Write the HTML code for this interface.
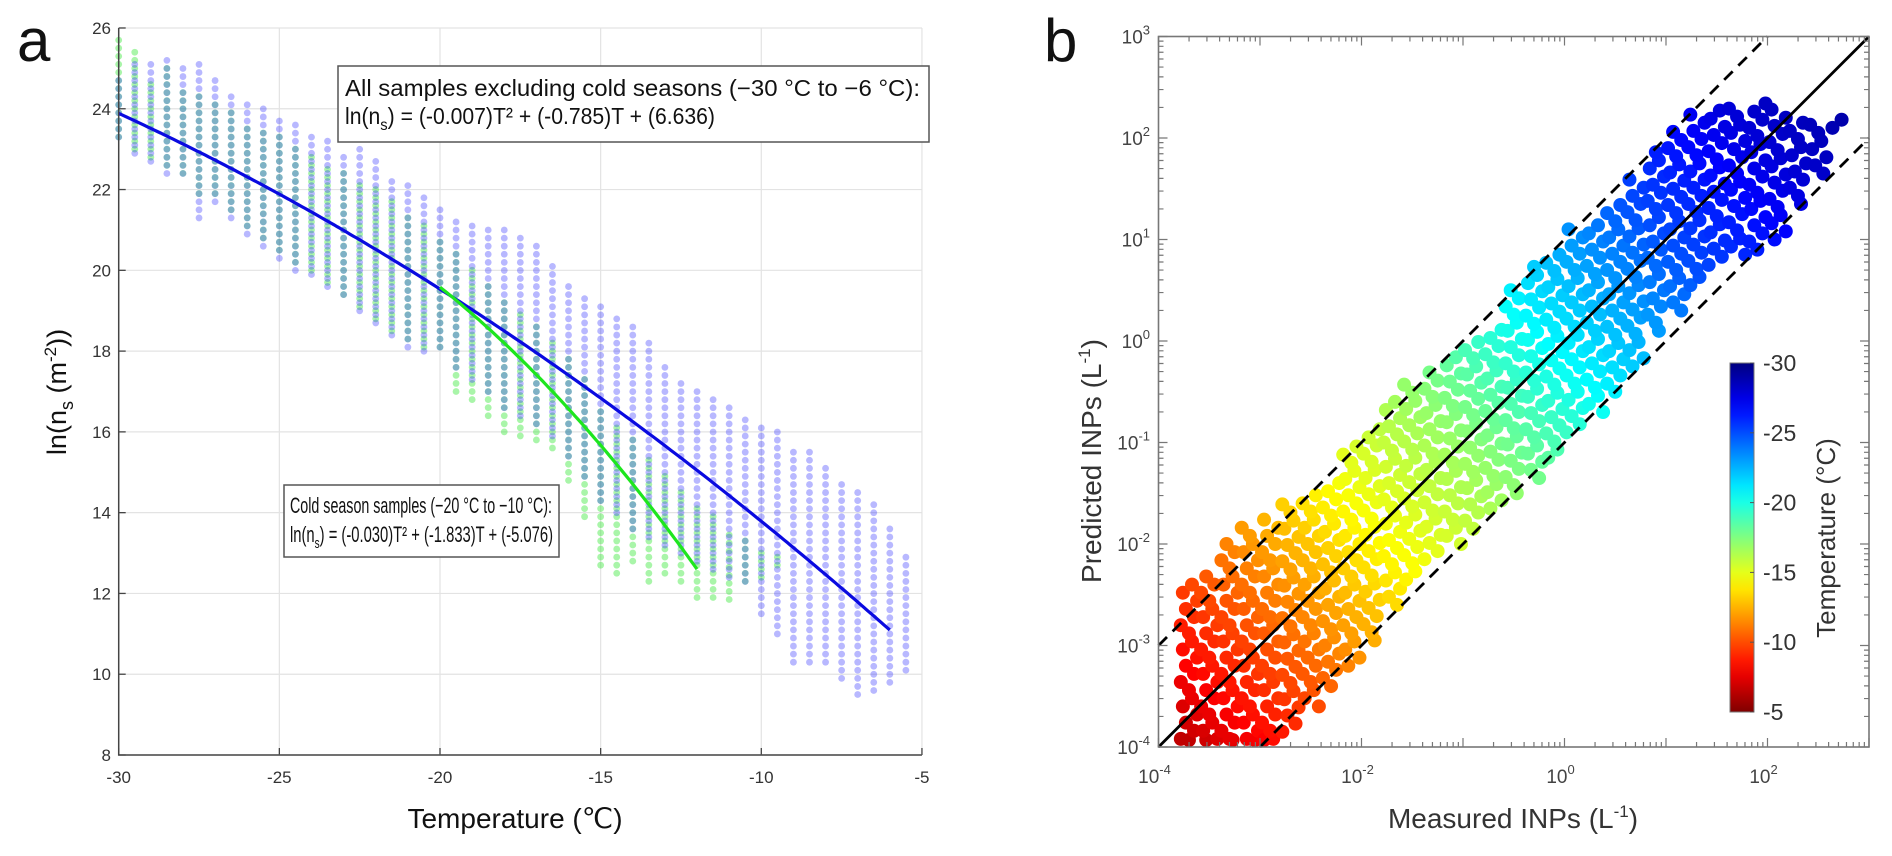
<!DOCTYPE html>
<html><head><meta charset="utf-8"><style>
html,body{margin:0;padding:0;background:#fff;}
svg{display:block;font-family:"Liberation Sans",sans-serif;}
</style></head><body>
<svg id="fig" width="1892" height="856" viewBox="0 0 1892 856" xmlns="http://www.w3.org/2000/svg">
<g id="pa"></g>
<g id="pb"></g>
</svg>
<script>
// ---------- Panel a data ----------
const aTemps = []; // columns every 0.5 °C from -30 to -5.5
for (let i = 0; i < 50; i++) aTemps.push(-30 + 0.5 * i);
const blueHi = [24.8,25.2,25.2,25.2,25.1,25.1,24.7,24.4,24.1,24.0,23.8,23.7,23.4,23.25,22.9,23.0,22.7,22.3,22.2,21.9,21.5,21.3,21.2,21.1,21.0,20.8,20.6,20.2,19.6,19.4,19.2,18.9,18.6,18.2,17.7,17.2,17.0,16.9,16.6,16.4,16.1,16.0,15.6,15.6,15.2,14.7,14.5,14.2,13.75,13.0];
const blueLo = [23.3,22.9,22.7,22.4,22.4,21.3,21.7,21.3,20.9,20.6,20.3,20.0,19.9,19.6,19.4,19.0,18.7,18.4,18.1,18.0,18.1,17.6,17.3,17.0,16.6,16.4,16.2,15.9,15.4,14.9,14.3,14.0,13.6,13.4,13.2,13.0,12.8,12.6,12.4,12.3,11.5,11.0,10.3,10.3,10.3,9.9,9.5,9.6,9.8,10.1];
const greenHi = [25.7,25.5,24.6,25.0,24.5,24.3,24.2,23.9,23.6,23.4,23.3,23.0,22.8,22.6,22.4,22.2,22.0,21.7,21.4,21.2,20.8,20.4,20.0,19.6,19.3,19.0,18.6,18.2,17.8,17.3,16.6,16.2,15.8,15.3,14.9,14.5,14.2,13.9,13.6,13.3,13.1,12.9];
const greenLo = [23.3,23.0,22.8,22.6,22.4,21.9,21.9,21.5,21.1,20.8,20.5,20.2,20.0,19.7,19.4,19.1,18.8,18.5,18.3,18.1,18.1,17.0,16.8,16.4,16.0,15.9,15.8,15.6,14.8,13.9,12.7,12.5,12.8,12.3,12.5,12.3,11.9,11.9,11.85,12.3,12.4,12.7];
const blueCoef = [-0.007,-0.785,6.636];
const blueRange = [-30,-6];
const greenCoef = [-0.030,-1.833,-5.076];
const greenRange = [-20,-12];
const aXTicks = [-30,-25,-20,-15,-10,-5];
const aYTicks = [8,10,12,14,16,18,20,22,24,26];

// ---------- Panel b data ----------
const bColX = [-3.7,-3.5,-3.3,-3.1,-2.9,-2.7,-2.5,-2.3,-2.1,-1.9,-1.7,-1.5,-1.3,-1.1,-0.9,-0.7,-0.5,-0.3,-0.1,0.1,0.3,0.5,0.7,0.9,1.1,1.3,1.5,1.7,1.9,2.1,2.3,2.5,2.7];
const bColLo = [-4,-4,-4,-4,-4,-3.85,-3.6,-3.4,-3.2,-2.95,-2.6,-2.35,-2.15,-2.0,-1.85,-1.65,-1.5,-1.35,-1.15,-0.9,-0.7,-0.5,-0.25,0.1,0.3,0.55,0.75,0.85,0.9,1.0,1.35,1.65,2.1];
const bColHi = [-2.4,-2.3,-2.0,-1.8,-1.7,-1.6,-1.5,-1.35,-1.0,-0.85,-0.6,-0.4,-0.25,-0.1,0.0,0.15,0.5,0.75,0.9,1.1,1.2,1.35,1.6,1.9,2.1,2.25,2.3,2.3,2.4,2.3,2.2,2.2,2.25];
const tempLevels = [-4,-3.5,-3,-2,-1,0,1,2,3];
const tempValues = [-6,-8,-10,-14,-17,-21,-25,-28,-30];
const bTicks = [-4,-3,-2,-1,0,1,2,3];
const bXTickLabels = [-4,-2,0,2];
const cbTicks = [-30,-25,-20,-15,-10,-5];

const NS = "http://www.w3.org/2000/svg";
function mk(parent, tag, attrs, text) {
  const e = document.createElementNS(NS, tag);
  for (const k in attrs) e.setAttribute(k, attrs[k]);
  if (text !== undefined) e.textContent = text;
  parent.appendChild(e);
  return e;
}
const pa = document.getElementById('pa');
const pb = document.getElementById('pb');

// ---- Panel a axes ----
const ax = t => 118.7 + (t + 30) * 32.13;
const ay = v => 755 - (v - 8) * 40.39;

aXTicks.forEach(t => {
  const g = mk(pa, 'line', {x1: ax(t), x2: ax(t), y1: ay(26), y2: ay(8), stroke: '#e3e3e3', 'stroke-width': 1.2});
  
  
  const tk = mk(pa, 'line', {x1: ax(t), x2: ax(t), y1: 755, y2: 748, stroke: '#444', 'stroke-width': 1.3});
  
  
  const lb = mk(pa, 'text', {x: ax(t), y: 783, 'text-anchor': 'middle', 'font-size': 17, fill: '#333'}, String(t));
  
  
});
aYTicks.forEach(v => {
  const g = mk(pa, 'line', {x1: ax(-30), x2: ax(-5), y1: ay(v), y2: ay(v), stroke: '#e3e3e3', 'stroke-width': 1.2});
  
  
  const tk = mk(pa, 'line', {x1: 118.7, x2: 125.7, y1: ay(v), y2: ay(v), stroke: '#444', 'stroke-width': 1.3});
  
  
  const lb = mk(pa, 'text', {x: 111, y: ay(v) + 6, 'text-anchor': 'end', 'font-size': 17, fill: '#333'}, String(v));
  
  
});

// scatter
aTemps.forEach((t, i) => {
  if (i < greenHi.length) {
    for (let v = greenLo[i]; v <= greenHi[i] + 1e-6; v += 0.2) {
      const c = mk(pa, 'circle', {cx: ax(t), cy: ay(v), r: 3.4, fill: 'rgba(50,230,50,0.42)'});
      
      
    }
  }
  for (let v = blueLo[i]; v <= blueHi[i] + 1e-6; v += 0.2) {
    const c = mk(pa, 'circle', {cx: ax(t), cy: ay(v) + 0.1, r: 3.4, fill: 'rgba(40,40,255,0.33)'});
    
    
  }
});

function fitPath(coef, range) {
  let d = '';
  for (let t = range[0]; t <= range[1] + 1e-6; t += 0.1) {
    const v = coef[0] * t * t + coef[1] * t + coef[2];
    d += (d ? 'L' : 'M') + ax(t).toFixed(1) + ',' + ay(v).toFixed(1);
  }
  return d;
}
const fb = mk(pa, 'path', {d: fitPath(blueCoef, blueRange), stroke: '#0a0ae0', 'stroke-width': 3.2, fill: 'none'});


const fg = mk(pa, 'path', {d: fitPath(greenCoef, greenRange), stroke: '#1ee61e', 'stroke-width': 3.2, fill: 'none'});



const axl = mk(pa, 'path', {d: `M118.7,${ay(26)}V755H${ax(-5)}`, stroke: '#444', 'stroke-width': 1.5, fill: 'none'});


</script>
<svg style="position:absolute;left:0;top:0" width="1892" height="856" xmlns="http://www.w3.org/2000/svg" font-family="Liberation Sans, sans-serif">
  <text x="17" y="61" font-size="60" fill="#111">a</text>
  <text x="1044" y="61" font-size="60" fill="#111">b</text>
  <g>
    <rect x="338" y="66" width="591" height="76" fill="#fff" stroke="#555" stroke-width="1.5"/>
    <text x="345" y="96" font-size="23" fill="#111" textLength="575" lengthAdjust="spacingAndGlyphs">All samples excluding cold seasons (−30 °C to −6 °C):</text>
    <text x="345" y="124" font-size="23" fill="#111" textLength="370" lengthAdjust="spacingAndGlyphs">ln(n<tspan font-size="16" dy="6">s</tspan><tspan dy="-6">) = (-0.007)T² + (-0.785)T + (6.636)</tspan></text>
  </g>
  <g>
    <rect x="284" y="485" width="275" height="72" fill="#fff" stroke="#555" stroke-width="1.5"/>
    <text x="290" y="513" font-size="22" fill="#111" textLength="262" lengthAdjust="spacingAndGlyphs">Cold season samples (−20 °C to −10 °C):</text>
    <text x="290" y="542" font-size="22" fill="#111" textLength="263" lengthAdjust="spacingAndGlyphs">ln(n<tspan font-size="15" dy="6">s</tspan><tspan dy="-6">) = (-0.030)T² + (-1.833)T + (-5.076)</tspan></text>
  </g>
  <text x="515" y="828" font-size="28" text-anchor="middle" fill="#111">Temperature (℃)</text>
  <text transform="translate(66,392) rotate(-90)" font-size="27" text-anchor="middle" fill="#111">ln(n<tspan font-size="18" dy="7">s</tspan><tspan dy="-7"> (m</tspan><tspan font-size="17" dy="-10">-2</tspan><tspan dy="10">))</tspan></text>
  <text x="1513" y="828" font-size="28" text-anchor="middle" fill="#333">Measured INPs (L<tspan font-size="17" dy="-11">-1</tspan><tspan dy="11">)</tspan></text>
  <text transform="translate(1101,461) rotate(-90)" font-size="28" text-anchor="middle" fill="#333">Predicted INPs (L<tspan font-size="17" dy="-11">-1</tspan><tspan dy="11">)</tspan></text>
  <text transform="translate(1835,538) rotate(-90)" font-size="26" text-anchor="middle" fill="#333">Temperature (°C)</text>
</svg>
<script>
// ---- Panel b ----
const bx = l => 1158.5 + (l + 4) * 101.5;
const by = l => 747 - (l + 4) * 101.5;
function jet(t) {
  const cl = v => Math.max(0, Math.min(1, v));
  const r = cl(1.5 - Math.abs(4 * t - 3)), g = cl(1.5 - Math.abs(4 * t - 2)), b = cl(1.5 - Math.abs(4 * t - 1));
  return `rgb(${Math.round(r*255)},${Math.round(g*255)},${Math.round(b*255)})`;
}
function tempAt(l) {
  if (l <= tempLevels[0]) return tempValues[0];
  for (let i = 1; i < tempLevels.length; i++) {
    if (l <= tempLevels[i]) {
      const f = (l - tempLevels[i-1]) / (tempLevels[i] - tempLevels[i-1]);
      return tempValues[i-1] + f * (tempValues[i] - tempValues[i-1]);
    }
  }
  return tempValues[tempValues.length - 1];
}
const tColor = T => jet((T + 30) / 25);
// fixed scatter offsets (styling only) to avoid regular striping
const offsets = [0.0, -0.08, 0.05, -0.03, 0.08, -0.06, 0.03];

// points
bColX.forEach((lx, i) => {
  let k = i * 3;
  for (let ly = bColLo[i]; ly <= bColHi[i] + 1e-6; ly += 0.08) {
    const px = lx + offsets[k % offsets.length];
    k++;
    const T = tempAt((px + ly) / 2);
    const c = mk(pb, 'circle', {cx: bx(px), cy: Math.min(by(ly), 740), r: 7, fill: tColor(T)});
    
    
  }
});

// lines
const one = mk(pb, 'line', {x1: bx(-4), y1: by(-4), x2: bx(3), y2: by(3), stroke: '#000', 'stroke-width': 2.8});


const up = mk(pb, 'line', {x1: bx(-4), y1: by(-3), x2: bx(2), y2: by(3), stroke: '#000', 'stroke-width': 2.8, 'stroke-dasharray': '12,8'});


const dn = mk(pb, 'line', {x1: bx(-3), y1: by(-4), x2: bx(3), y2: by(2), stroke: '#000', 'stroke-width': 2.8, 'stroke-dasharray': '12,8'});



// axes box and ticks
const box = mk(pb, 'rect', {x: bx(-4), y: by(3), width: bx(3) - bx(-4), height: by(-4) - by(3), fill: 'none', stroke: '#777', 'stroke-width': 1.6});


let tickD = '';
bTicks.forEach(d => {
  const X = bx(d), Y = by(d);
  tickD += `M${X},${by(-4)}v-9M${X},${by(3)}v9M${bx(-4)},${Y}h9M${bx(3)},${Y}h-9`;
  if (d < 3) for (let m = 2; m <= 9; m++) {
    const l = d + Math.log10(m);
    tickD += `M${bx(l)},${by(-4)}v-5M${bx(l)},${by(3)}v5M${bx(-4)},${by(l)}h5M${bx(3)},${by(l)}h-5`;
  }
});
const tk = mk(pb, 'path', {d: tickD, stroke: '#777', 'stroke-width': 1.2, fill: 'none'});


bTicks.forEach(d => {
  const t = mk(pb, 'text', {x: 1150, y: by(d) + 7, 'text-anchor': 'end', 'font-size': 19, fill: '#444'});
  
  
  mk(t, 'tspan', {}, '10');
  mk(t, 'tspan', {'font-size': 13, dy: -9}, String(d));
});
bXTickLabels.forEach(d => {
  const t = mk(pb, 'text', {x: bx(d) - 4, y: 783, 'text-anchor': 'middle', 'font-size': 19, fill: '#444'});
  
  
  mk(t, 'tspan', {}, '10');
  mk(t, 'tspan', {'font-size': 13, dy: -9}, String(d));
});

// colorbar
const cbTop = 363, cbBot = 712, cbX = 1730, cbW = 24;
const cy = T => cbTop + (T + 30) / 25 * (cbBot - cbTop);
const defs = mk(pb, 'defs', {});
const lg = mk(defs, 'linearGradient', {id: 'jetg', x1: 0, y1: 0, x2: 0, y2: 1});
for (let s = 0; s <= 20; s++) mk(lg, 'stop', {offset: s / 20, 'stop-color': jet(s / 20)});
const cb = mk(pb, 'rect', {x: cbX, y: cbTop, width: cbW, height: cbBot - cbTop, fill: 'url(#jetg)', stroke: '#777', 'stroke-width': 1});


cbTicks.forEach(T => {
  const l = mk(pb, 'line', {x1: cbX + cbW - 4, x2: cbX + cbW, y1: cy(T), y2: cy(T), stroke: '#555'});
  
  
  const t = mk(pb, 'text', {x: 1763, y: cy(T) + 8, 'font-size': 23, fill: '#333'}, String(T));
  
  
});
</script>
</body></html>
